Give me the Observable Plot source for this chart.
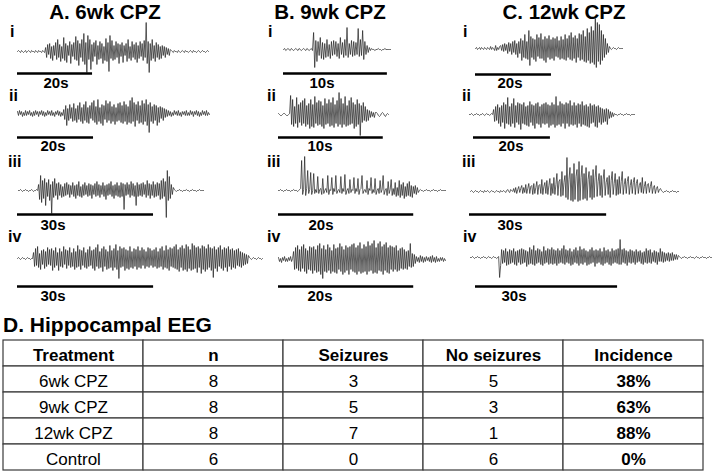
<!DOCTYPE html>
<html>
<head>
<meta charset="utf-8">
<script src="https://cdn.jsdelivr.net/npm/d3@7"></script>
<script src="https://cdn.jsdelivr.net/npm/@observablehq/plot@0.6"></script>
<style>
  body { margin: 0; background: #fff; }
  #fig { position: relative; width: 712px; height: 472px; overflow: hidden; background: #fff;
         font-family: "Liberation Sans", Arial, Helvetica, sans-serif; }
  .lbl { position: absolute; font-weight: bold; line-height: 1; white-space: nowrap; color: #000; }
  #fig svg { position: absolute; overflow: visible; }
</style>
</head>
<body>
<div id="fig"></div>
<script>
// ---- Panel titles and trace labels ----
const panelTitles = ["A. 6wk CPZ", "B. 9wk CPZ", "C. 12wk CPZ"];
const traceLabels = ["i", "ii", "iii", "iv"];

// ---- Scale bar length (s) per trace ----
const barSecA = [20, 20, 30, 30];
const barSecB = [10, 10, 20, 20];
const barSecC = [20, 20, 30, 30];

// ---- Record length (s) per trace ----
const durA = [50.9, 50.5, 40.8, 54.0];
const durB = [10.3, 10.5, 24.7, 24.7];
const durC = [38.7, 42.9, 45.5, 51.1];

// ---- Hippocampal EEG excursions (a.u., evenly sampled over each record) ----
const eegA1 = [0,1,0,-1,1,0,-1,0,1,-1,0,1,0,-1,1,0,0,-1,1,0,-1,1,0,0,-1,1,0,-1,
  4,-6,7,-3,8,-7,5,-9,6,-4, 9,-8,12,-6,7,-10,5,-7,14,-9, 8,-11,6,-4,10,-12,7,-5,9,-8,
  15,-9,11,-14,8,-6,12,-10,18,-13, 9,-21,16,-8,12,-18,7,-10,9,-5, 11,-13,6,-8,10,-7,8,-12,5,-9,
  13,-10,9,-20,16,-7,11,-9,6,-8, 10,-6,8,-12,7,-5,9,-11,6,-4, 8,-10,12,-7,5,-9,10,-6,7,-8,
  9,-11,6,-7,10,-5,8,-9,11,-6, 29,-12,10,-21,8,-9,12,-7,6,-10, 9,-6,7,-8,5,-7,6,-4,5,-6,
  4,-3,3,-4,2,
  1,0,-1,1,0,0,-1,1,0,-1,0,1,0,-1,1,0,0,-1,0,1,0,-1,1,0,0,-1,0,1,0,-1,0,1,0,0,-1,0,1,0];
const eegA2 = [2,-2,3,-1,2,-3,1,-2,3,-2, 2,-1,3,-2,1,-3,2,-2,3,-1, 2,-3,2,-1,3,-2,2,-3,1,-2,
  3,-1,2,-2,3,-2,1,-3,2,-1, 3,-2,2,-3,1,-2,
  4,-6,8,-12,5,-7,9,-5,6,-8, 10,-7,5,-9,8,-6,11,-8,6,-10, 9,-7,12,-9,6,-10,8,-5,11,-7,
  13,-9,7,-11,14,-8,6,-10,9,-12, 8,-6,13,-9,10,-7,12,-10,7,-8, 9,-11,6,-8,10,-7,11,-9,8,-10,
  12,-8,9,-11,7,-9,13,-10,16,-8, 11,-13,9,-7,12,-10,8,-9,13,-11, 10,-8,14,-12,9,-19,11,-8,7,-10,
  9,-7,8,-12,6,-9,7,-5,6,-7, 5,-4,4,-3,
  3,-2,2,-3,1,-2,3,-1,2,-2, 3,-2,1,-3,2,-1,2,-2,3,-2, 1,-2,3,-1,2,-3,2,-1,3,-2,
  2,-3,1,-2,3,-1,2,-2,3,-2,1,-1];
const eegA3 = [0,0,1,0,-1,0,0,1,0,0,-1,0,0,1,0,-1,0,0,1,0,
  6,-9,15,-12,10,-8,12,-15,8,-6, 11,-10,6,-23,9,-7,12,-5,7,-9, 8,-5,6,-7,4,-6,7,-5,8,-4,
  6,-7,5,-4,8,-6,5,-8,6,-5, 9,-6,4,-7,6,-5,8,-4,5,-6, 7,-5,6,-8,5,-4,7,-6,9,-5,
  6,-7,5,-4,8,-6,5,-9,6,-5, 7,-4,9,-6,5,-8,6,-5,8,-6, 5,-7,8,-6,7,-19,6,-5,8,-4,
  6,-7,9,-5,7,-6,5,-15,8,-6, 6,-5,7,-6,8,-4,6,-7,10,-5, 7,-8,6,-5,9,-7,6,-6,8,-5,
  7,-9,10,-8,12,-6,9,-27,20,-10, 14,-8,6,-4,3,
  1,0,-1,0,0,1,0,0,-1,0,0,0,1,0,0,-1,0,0,1,0,0,0,-1,0,0,1,0,0,0,0];
const eegA4 = [0,1,0,-1,0,1,0,0,-1,0,1,0,0,-1,0,0,
  6,-8,10,-7,12,-9,5,-11,8,-6, 9,-10,7,-8,11,-6,9,-7,10,-12, 8,-9,11,-7,6,-12,10,-8,7,-9,
  12,-6,9,-10,8,-7,11,-9,6,-8, 10,-11,7,-9,13,-8,9,-11,8,-7, 11,-9,6,-10,9,-8,12,-7,8,-10,
  9,-12,11,-8,14,-10,7,-9,10,-13, 12,-8,9,-11,7,-10,13,-9,8,-12, 10,-9,14,-11,8,-20,12,-9,10,-8,
  11,-12,9,-10,8,-11,12,-9,7,-10, 10,-8,9,-11,12,-9,8,-10,11,-7, 9,-10,7,-8,11,-9,10,-7,8,-9,
  9,-8,11,-10,7,-9,10,-8,12,-11, 8,-9,13,-10,9,-12,11,-8,10,-9, 12,-10,14,-11,9,-13,11,-9,13,-12,
  10,-11,14,-13,12,-10,9,-12,15,-11, 13,-10,11,-14,12,-9,10,-15,13,-11, 12,-13,10,-11,14,-9,11,-12,10,-19,
  12,-10,9,-13,11,-8,13,-10,9,-12, 11,-9,10,-13,12,-8,9,-11,10,-9, 8,-10,9,-7,10,-8,7,-9,6,-7,
  5,-6,4,-5,3,
  1,0,-1,0,1,0,0,-1,0,1,0,0,-1,0];
const eegB1 = [0,1,-1,0,1,0,-1,1,0,-1, 0,1,0,-1,1,0,-1,0,1,0, -1,1,0,-1,0,1,-1,
  17,-18,9,-12,8,-6,12,-9,7,-10, 6,-8,10,-7,5,-9,8,-6,9,-5, 8,-7,6,-9,12,-5,7,-8,10,-6,
  22,-8,6,-5,9,-7,8,-6,7,-5, 21,-7,10,-6,19,-10,8,-5,
  4,-3,2,-1,1,0,0,-1,0,0,1,0,0,-1,0,0,1,0,0,0,0,0];
const eegB2 = [1,0,-1,-1,0,1,1,0,-1,-1,0,1,
  19,-10,15,-12,8,-9,17,-13,10,-8, 12,-11,14,-9,16,-12,9,-10,11,-14, 15,-12,10,-13,18,-9,12,-11,14,-10,
  13,-12,9,-14,16,-10,11,-9,15,-12, 12,-11,17,-13,10,-9,14,-12,22,-10, 16,-13,11,-10,18,-12,9,-11,14,-10,
  17,-9,12,-14,10,-12,15,-10,11,-21, 9,-8,12,-6,8,-7,5,-6,4,-3, 3,-2,2,-3,2,
  2,1,-1,-2,-1,1,2,1,-1,-2,0,1,0];
const eegB3 = [0,0,1,0,0,-1,0,0,1,0,0,0,-1,0,0,1,0,0,0,-1,0,1,
  2,30,-4,1,34,-5,2,20,-3,1, 18,-4,0,17,-3,1,-2,14,-3,1, 2,-4,12,-3,0,2,-2,15,-4,1,
  0,13,-4,2,-1,15,-3,0,1,-2, 14,-3,2,-1,16,-4,0,2,-3,11, -2,1,0,13,-3,2,-1,12,-4,1,
  2,15,-3,0,1,-2,10,-4,2,0, 13,-3,1,-2,12,-4,0,2,-3,10, -2,1,15,-4,0,2,-5,9,-3,1,
  11,-5,2,-4,8,-6,3,-5,10,-7, 6,-5,8,-8,4,-6,7,-5,9,-6, 5,-7,4,-3,5,-4,3,-2,
  0,1,0,0,-1,0,0,1,0,0,0,-1,0,0,1,0,0,0,-1,0,0,1,0,0,0,0,0];
const eegB4 = [2,-2,1,-3,2,-1,3,-2,1,-2,2,-1,3,-2,1,
  8,-10,12,-9,14,-11,10,-12,13,-9, 15,-12,11,-14,9,-10,13,-11,12,-14, 13,-11,10,-13,14,-12,16,-15,11,-19,
  14,-12,10,-13,15,-11,12,-14,9,-12, 15,-13,11,-14,12,-10,16,-12,13,-15, 10,-13,14,-11,12,-15,13,-10,15,-12,
  16,-13,12,-15,14,-12,17,-14,11,-13, 15,-12,13,-15,18,-12,14,-11,16,-14, 19,-13,12,-14,16,-11,18,-12,13,-15,
  15,-11,17,-13,12,-14,14,-10,13,-12, 12,-10,14,-12,9,-11,11,-9,12,-10, 10,-9,8,-10,9,-7,16,-8,6,-7,
  5,-4,
  3,-2,2,-3,4,-2,3,-3,2,-2, 3,-1,2,-2,3,-3,4,-2,2,-3, 3,-2,1,-2,2,-1,2,-2,1,-1];
const eegC1 = [0,1,-1,0,1,-1,1,0,-1,1,0,-1,1,0,-1,2,-1,1,0,-2,3,-2,1,-1,2,
  3,-2,4,-3,5,-2,4,-5,6,-3, 5,-6,7,-4,8,-6,5,-9,7,-5, 10,-12,8,-9,14,-10,7,-11,18,-17,
  12,-9,10,-11,9,-13,14,-8,11,-10, 15,-10,9,-12,12,-14,10,-9,13,-11, 9,-10,11,-12,10,-8,12,-9,8,-11,
  12,-10,9,-11,14,-12,10,-9,13,-11, 16,-12,11,-10,13,-14,10,-9,15,-12, 14,-11,18,-13,12,-14,20,-12,16,-15,
  22,-14,18,-16,30,-19,26,-13,24,-16, 18,-12,14,-9,10,-6,5,-4,
  2,0,-1,0,1,0,0,-1,0,1,0,0,0,0];
const eegC2 = [0,0,1,0,-1,0,0,1,0,0,-1,0,0,1,0,-1,0,1,0,0,-1,0,1,0,
  5,-7,8,-6,10,-9,7,-12,9,-8, 12,-14,10,-9,17,-10,8,-12,11,-9, 16,-13,9,-8,12,-10,11,-15,10,-9,
  12,-10,8,-11,9,-12,13,-8,10,-11, 9,-14,11,-9,12,-10,8,-13,10,-9, 11,-10,12,-9,10,-13,9,-11,12,-10,
  10,-13,18,-11,9,-10,13,-12,11,-9, 10,-14,12,-9,11,-12,14,-10,9,-11, 12,-10,9,-13,11,-9,10,-12,13,-10,
  9,-11,10,-12,8,-13,11,-9,9,-8, 10,-12,8,-13,9,-8,7,-10,6,-8, 5,-7,6,-10,5,-4,3,-3,2,-2,
  1,0,0,-1,0,0,1,0,0,-1,0,0,1,0,0,0,-1,0,0,0,0];
const eegC3 = [0,1,0,-1,0,1,0,0,-1,0, 1,0,0,-1,1,0,0,1,0,-1, 0,1,0,0,-1,0,1,0,0,-1,
  1,0,0,1,0,-1,1,2,0,-1, 2,1,0,
  3,-1,4,-2,2,5,-1,3,6,-2, 4,-1,7,-2,3,8,-2,5,6,-3, 8,-2,4,10,-3,6,7,-2,12,-3,
  5,9,-2,11,-3,6,13,-4,8,-2, 14,-3,7,18,-4,10,12,-5,20,-4, 9,16,-6,34,-8,12,24,-9,18,-10,
  28,-8,15,22,-10,30,-9,14,26,-8, 18,-7,24,-9,12,20,-6,16,-8,22, -6,14,26,-5,10,18,-4,16,-6,12,
  22,-4,9,14,-3,16,-6,11,20,-3, 8,18,-4,12,-3,15,-2,10,20,-3, 7,13,-2,10,15,-3,6,12,-2,9,
  14,-3,8,12,-2,6,9,-1,14,-2, 5,10,-2,7,8,-1,5,10,-2,4, 6,-2,3,5,-1,2,3,
  1,0,-1,0,0,1,0,0,-1,0,0,1,0,0,0,-1,0,0];
const eegC4 = [0,0,1,0,-1,0,0,1,0,0, -1,0,0,1,0,0,-1,0,1,0, 0,-1,0,1,0,0,-1,0,1,
  -20,-8,8,-6,7,-5,9,-8,6,-7, 8,-6,7,-5,9,-7,6,-8,7,-5, 8,-7,9,-6,8,-5,7,-9,6,-7,
  10,-6,8,-7,12,-8,7,-6,9,-5, 8,-7,6,-8,11,-6,7,-5,9,-7, 8,-6,10,-7,8,-6,7,-8,9,-6,
  7,-5,9,-6,12,-7,8,-5,7,-6, 9,-8,6,-7,8,-5,10,-6,7,-8, 11,-6,8,-7,9,-5,7,-8,6,-7,
  8,-6,10,-5,7,-9,8,-6,7,-5, 9,-7,6,-8,10,-6,7,-5,8,-7, 6,-8,9,-6,7,-5,8,-6,9,-7,
  18,-7,8,-5,9,-6,7,-8,6,-5, 8,-6,7,-5,6,-7,8,-5,6,-4, 7,-6,5,-7,6,-5,9,-6,7,-5,
  8,-6,5,-4,7,-5,6,-7,5,-4, 9,-4,6,-5,5,-4,4,-3,5,-4, 4,-3,5,-3,3,-2,3,-2,2,
  1,0,-1,0,0,1,0,0,-1,0, 0,1,0,0,0,-1,0,1,0,0, -1,0,0,1,0,0,0,-1,0,0, 1,0,0,0];

// ---- Incidence table ----
const tableHeader = ["Treatment", "n", "Seizures", "No seizures", "Incidence"];
const treatment = ["6wk CPZ", "9wk CPZ", "12wk CPZ", "Control"];
const nAnimals = [8, 8, 8, 6];
const seizures = [3, 5, 7, 0];
const noSeizures = [5, 3, 1, 6];
const incidence = ["38%", "63%", "88%", "0%"];

// ================= drawing =================
const fig = document.getElementById("fig");
const FONT = "'Liberation Sans', Arial, Helvetica, sans-serif";

function addLabel(text, x, baseline, size, centered) {
  const d = document.createElement("div");
  d.className = "lbl";
  d.textContent = text;
  d.style.fontSize = size + "px";
  d.style.top = (baseline - 0.8465 * size) + "px";
  if (centered) {
    d.style.left = (x - 150) + "px";
    d.style.width = "300px";
    d.style.textAlign = "center";
  } else {
    d.style.left = x + "px";
  }
  fig.appendChild(d);
}

function place(svg, left, top) {
  svg.style.left = left + "px";
  svg.style.top = top + "px";
  fig.appendChild(svg);
}

// page layout of each column of traces
const layout = [
  { title: 105, labelX: [10, 9, 8, 8], rows: [
    { x0: 17, x1: 208, base: 51, bar: 73, barX: 17, labX: 43, lab: 87 },
    { x0: 17, x1: 209, base: 113, bar: 137, barX: 17, labX: 40, lab: 150 },
    { x0: 18, x1: 203, base: 190, bar: 214, barX: 17, labX: 40, lab: 229 },
    { x0: 17, x1: 262, base: 258, bar: 286, barX: 17, labX: 40, lab: 300 } ] },
  { title: 330, labelX: [268, 267, 267, 267], rows: [
    { x0: 283, x1: 390, base: 49, bar: 73, barX: 283, labX: 309, lab: 87 },
    { x0: 278, x1: 388, base: 114, bar: 137, barX: 278, labX: 307, lab: 150 },
    { x0: 278, x1: 445, base: 190, bar: 214, barX: 278, labX: 308, lab: 229 },
    { x0: 278, x1: 445, base: 259, bar: 286, barX: 278, labX: 307, lab: 300 } ] },
  { title: 564, labelX: [463, 462, 462, 463], rows: [
    { x0: 475, x1: 622, base: 48, bar: 74, barX: 475, labX: 497, lab: 87 },
    { x0: 469, x1: 634, base: 114, bar: 137, barX: 473, labX: 498, lab: 150 },
    { x0: 470, x1: 678, base: 191, bar: 214, barX: 469, labX: 497, lab: 229 },
    { x0: 470, x1: 712, base: 257, bar: 286, barX: 475, labX: 501, lab: 300 } ] }
];
const labelBaselines = [38, 102, 168, 243];

const traces = [[eegA1, eegA2, eegA3, eegA4], [eegB1, eegB2, eegB3, eegB4], [eegC1, eegC2, eegC3, eegC4]];
const durations = [durA, durB, durC];
const barSecs = [barSecA, barSecB, barSecC];

function tracePlot(values, dur, barSec, L) {
  const W = L.x1 - L.x0;
  const half = 40;
  const dt = dur / (values.length - 1);
  const barStart = (L.barX - L.x0) / W * dur;
  const labelFont = 15;
  return Plot.plot({
    width: W, height: 2 * half, margin: 0,
    x: { domain: [0, dur], axis: null },
    y: { domain: [-half, half], axis: null },
    style: { background: "transparent", overflow: "visible", fontFamily: FONT },
    marks: [
      Plot.line(values, { x: (d, i) => i * dt, y: d => d, stroke: "#1c1c1c", strokeWidth: 0.7 }),
      Plot.ruleY([0], { x1: () => barStart, x2: () => barStart + barSec, dy: L.bar - L.base,
                        stroke: "#000", strokeWidth: 2.5 }),
      Plot.text([`${barSec}s`], { x: () => barStart, y: () => 0, text: d => d,
                        dx: L.labX - L.barX, dy: L.lab - L.base - 0.32 * labelFont,
                        textAnchor: "start", fontSize: labelFont, fontWeight: "bold", fill: "#000" })
    ]
  });
}

layout.forEach((col, p) => {
  addLabel(panelTitles[p], col.title, 19, 20.5, true);
  col.rows.forEach((L, r) => {
    addLabel(traceLabels[r], col.labelX[r], labelBaselines[r], 16, false);
    const svg = tracePlot(traces[p][r], durations[p][r], barSecs[p][r], L);
    place(svg, L.x0, L.base - 40);
  });
});

// ---- Panel D: table ----
addLabel("D. Hippocampal EEG", 3, 332, 21, false);

const cells = [];
tableHeader.forEach(h => cells.push({ row: 0, col: h, text: h, bold: true }));
treatment.forEach((t, i) => {
  const vals = [t, nAnimals[i], seizures[i], noSeizures[i], incidence[i]];
  vals.forEach((v, c) => cells.push({ row: i + 1, col: tableHeader[c], text: String(v), bold: c === 4 }));
});

const tableFont = 17;
const table = Plot.plot({
  width: 712, height: 133, margin: 0,
  x: { type: "band", domain: tableHeader, range: [2, 704], padding: 0, axis: null },
  y: { type: "band", domain: d3.range(5), range: [1, 131], padding: 0, axis: null },
  style: { background: "transparent", overflow: "visible", fontFamily: FONT },
  marks: [
    Plot.cell(cells, { x: "col", y: "row", fill: "white", stroke: "#3a3a3a", strokeWidth: 1.2, inset: 0 }),
    Plot.text(cells.filter(d => !d.bold), { x: "col", y: "row", text: "text", fontSize: tableFont, dy: 2, fill: "#000" }),
    Plot.text(cells.filter(d => d.bold), { x: "col", y: "row", text: "text", fontSize: tableFont, dy: 2, fontWeight: "bold", fill: "#000" })
  ]
});
place(table, 0, 339);
</script>
</body>
</html>
